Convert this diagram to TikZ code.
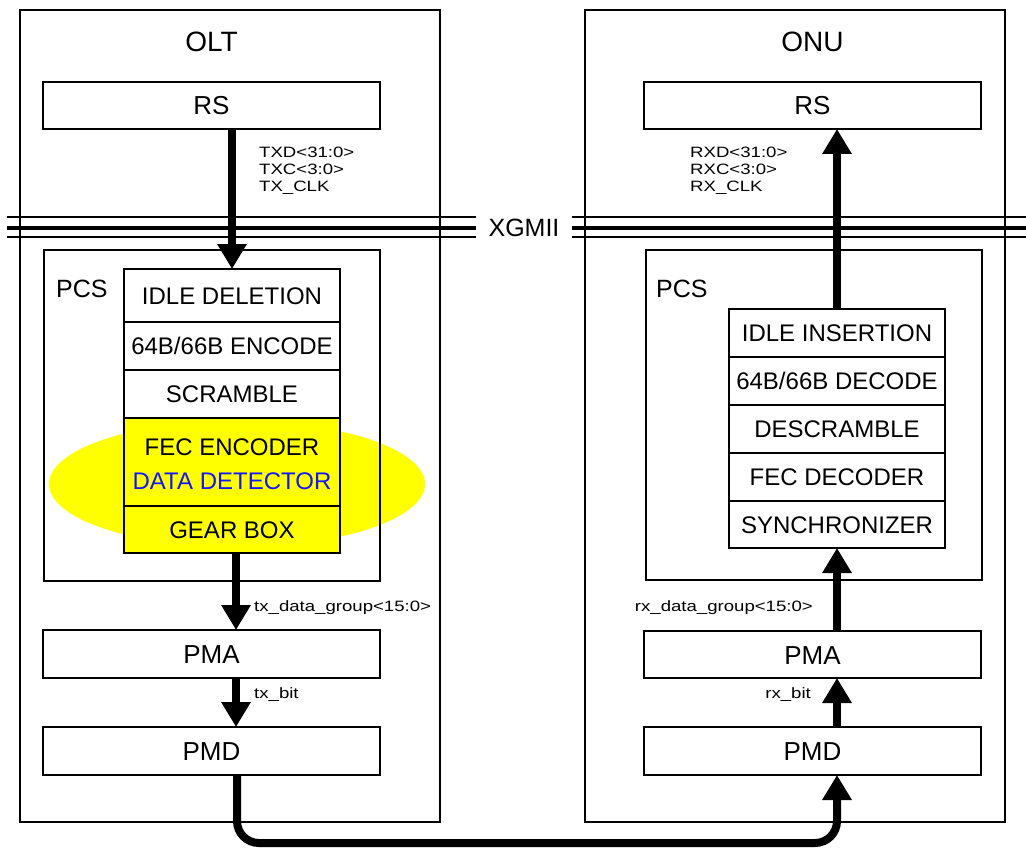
\documentclass[tikz,border=0pt]{standalone}
\usepackage{fontspec}
\setmainfont{Liberation Sans}
\newfontfamily\lblfont[FakeStretch=1.24]{Liberation Sans}
\usetikzlibrary{arrows.meta,calc}
\definecolor{hl}{RGB}{255,255,0}
\definecolor{dd}{RGB}{20,20,255}
\begin{document}
\begin{tikzpicture}[x=1pt,y=-1pt,
  frame/.style={draw, line width=2pt, inner sep=0pt, outer sep=0pt},
  blk/.style={frame, fill=white, minimum width=337pt, font=\fontsize{26}{30}\selectfont, text height=19pt, text depth=0pt},
  row/.style={frame, fill=white, minimum width=216pt, font=\fontsize{24}{28}\selectfont, text height=17pt, text depth=0pt},
  yrow/.style={row, fill=hl},
  ttl/.style={font=\fontsize{28}{32}\selectfont, inner sep=0pt},
  pcst/.style={font=\fontsize{25}{30}\selectfont, inner sep=0pt, anchor=west},
  lbl/.style={font=\lblfont\fontsize{15}{17}\selectfont, inner sep=0pt, align=left},
  big/.style={line width=8pt, -{Triangle[length=25pt,width=28pt]}},
  xline/.style={line width=2pt},
]
\useasboundingbox (0,0) rectangle (1026,848);
% outer frames
\node[frame, minimum width=420pt, minimum height=812pt] (olt) at (230,416) {};
\node[frame, minimum width=420pt, minimum height=812pt] (onu) at (795,416) {};
\node[ttl] (oltT) at (211.5,42) {OLT};
\node[ttl] (onuT) at (812.5,42) {ONU};
% XGMII
\node[font=\fontsize{25}{30}\selectfont, inner xsep=12.5pt, inner ysep=0pt, outer sep=0pt] (xg) at (524,228) {XGMII};
\coordinate (xgl) at (7,228);
\coordinate (xgr) at (1026,228);
\draw[line width=3.5pt] (xgl) -- (xg.west);
\draw[line width=3.5pt] (xg.east) -- (xgr);
\draw[xline] ([yshift=11pt]xgl) -- ([yshift=11pt]xg.west);
\draw[xline] ([yshift=-8.5pt]xgl) -- ([yshift=-8.5pt]xg.west);
\draw[xline] ([yshift=11pt]xg.east) -- ([yshift=11pt]xgr);
\draw[xline] ([yshift=-8.5pt]xg.east) -- ([yshift=-8.5pt]xgr);
% highlight
\fill[hl] (237,484) ellipse [x radius=188pt, y radius=63pt];
% PCS frames
\node[frame, minimum width=336pt, minimum height=331pt] (pcsL) at (212,415.5) {};
\node[frame, minimum width=336pt, minimum height=330pt] (pcsR) at (814,415) {};
\node[pcst] (pcsLt) at (56,289) {PCS};
\node[pcst] (pcsRt) at (656,289) {PCS};
% RS
\node[blk, minimum height=47pt] (rsL) at (211.5,105.5) {RS};
\node[blk, minimum height=47pt] (rsR) at (812.5,105.5) {RS};
% left stack
\node[row, minimum height=53pt] (l1) at (232,295.5) {IDLE DELETION};
\node[row, minimum height=48pt] (l2) at (232,346) {64B/66B ENCODE};
\node[row, minimum height=48pt] (l3) at (232,394) {SCRAMBLE};
\node[yrow, minimum height=88pt] (l4) at (232,462) {};
\node[font=\fontsize{24}{34}\selectfont, align=center, inner sep=0pt] (l4t) at (232,464) {FEC ENCODER\\\textcolor{dd}{DATA DETECTOR}};
\node[yrow, minimum height=47pt] (l5) at (232,529.5) {GEAR BOX};
% right stack
\node[row, minimum height=48pt] (r1) at (837,333) {IDLE INSERTION};
\node[row, minimum height=48pt] (r2) at (837,381) {64B/66B DECODE};
\node[row, minimum height=48pt] (r3) at (837,429) {DESCRAMBLE};
\node[row, minimum height=48pt] (r4) at (837,477) {FEC DECODER};
\node[row, minimum height=47pt] (r5) at (837,524.5) {SYNCHRONIZER};
% PMA / PMD
\node[blk, minimum height=48pt] (pmaL) at (211.5,654) {PMA};
\node[blk, minimum height=47pt] (pmaR) at (812.5,654.5) {PMA};
\node[blk, minimum height=48pt] (pmdL) at (211.5,751) {PMD};
\node[blk, minimum height=48pt] (pmdR) at (812.5,751) {PMD};
% arrows left
\draw[big] (l1.north |- rsL.south) -- (l1.north);
\draw[big] ([xshift=4pt]l5.south) -- ([xshift=4pt]l5.south |- pmaL.north);
\draw[big] ([xshift=4pt]l5.south |- pmaL.south) -- ([xshift=4pt]l5.south |- pmdL.north);
% arrows right
\draw[big] (r1.north) -- (r1.north |- rsR.south);
\draw[big] (r5.south |- pmaR.north) -- (r5.south);
\draw[big] (r5.south |- pmdR.north) -- (r5.south |- pmaR.south);
% link
\coordinate (bl) at (0,843);
\draw[big, rounded corners=22pt] ([xshift=5pt]l5.south |- pmdL.south) -- ([xshift=5pt]l5.south |- bl) -- (r5.south |- bl) -- (r5.south |- pmdR.south);
% labels
\node[lbl, anchor=west] (txl) at (259,171) {TXD<31:0>\\TXC<3:0>\\TX\_CLK};
\node[lbl, anchor=west] (rxl) at (690,171) {RXD<31:0>\\RXC<3:0>\\RX\_CLK};
\node[lbl, anchor=west] (txdg) at (254,608) {tx\_data\_group<15:0>};
\node[lbl, anchor=west] (txb) at (254,695) {tx\_bit};
\node[lbl, anchor=east] (rxdg) at (813,608) {rx\_data\_group<15:0>};
\node[lbl, anchor=east] (rxb) at (811,695) {rx\_bit};
\end{tikzpicture}
\end{document}
